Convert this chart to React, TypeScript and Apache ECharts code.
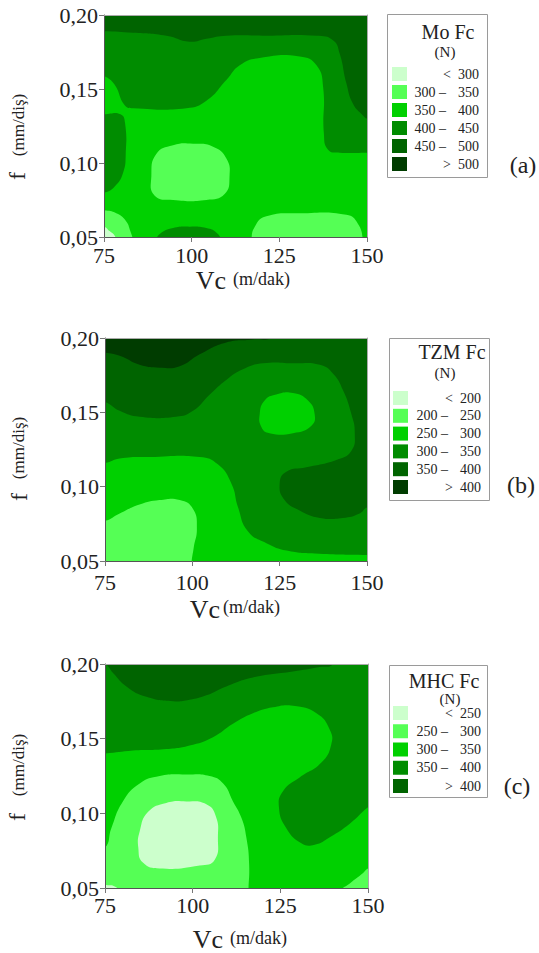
import React, { useEffect, useRef } from "react";
import * as echarts from "echarts";

// ---------------- shared axis ticks ----------------
const vcTicks = [75, 100, 125, 150];
const fTicks = [0.05, 0.1, 0.15, 0.2];

// level colours, lightest -> darkest
const greens = ["#ccffcc", "#55ff55", "#00d000", "#008c00", "#006400", "#003c00"];

// ---------------- (a) Mo Fc ----------------
const moTitle = "Mo Fc";
const moLow = ["<", "300 –", "350 –", "400 –", "450 –", ">"];
const moHigh = ["300", "350", "400", "450", "500", "500"];

const moBase = [[75, 0.05], [150, 0.05], [150, 0.2], [75, 0.2]];
const moL3Upper = [[71, 0.163], [75, 0.159], [78.0, 0.153], [80.9, 0.139], [83.3, 0.137], [98.5, 0.137], [104.2, 0.142], [109.9, 0.156], [113.7, 0.166], [119.4, 0.171], [130.8, 0.172], [135.6, 0.166], [137.5, 0.151], [137.7, 0.12], [138.9, 0.109], [142.2, 0.107], [150, 0.107], [154, 0.107], [154, 0.215], [71, 0.215]];
const moL4Top = [[71, 0.189], [75, 0.189], [83.3, 0.188], [92.8, 0.186], [99.4, 0.182], [104.2, 0.184], [109.9, 0.186], [121.3, 0.186], [135.6, 0.186], [140.3, 0.183], [142.2, 0.174], [144.1, 0.154], [146.0, 0.14], [148.9, 0.132], [150, 0.13], [154, 0.128], [154, 0.215], [71, 0.215]];
const moL3Left = [[71, 0.133], [75, 0.133], [79.7, 0.133], [81.0, 0.127], [81.2, 0.106], [80.4, 0.093], [78.0, 0.084], [75, 0.08], [71, 0.08]];
const moL1Mid = [[89.9, 0.106], [94.7, 0.112], [100.4, 0.113], [106.1, 0.111], [109.9, 0.103], [110.8, 0.091], [109.4, 0.079], [104.2, 0.075], [94.7, 0.075], [89.4, 0.078], [88.5, 0.091]];
const moL1Corner = [[71, 0.068], [75, 0.068], [78.5, 0.066], [81.2, 0.061], [82.5, 0.054], [83.3, 0.047], [83.6, 0.035], [71, 0.035]];
const moL0Corner = [[71, 0.058], [75, 0.057], [76.6, 0.054], [78.0, 0.051], [78.5, 0.047], [78.7, 0.035], [71, 0.035]];
const moL3Bottom = [[89.6, 0.035], [89.9, 0.047], [90.9, 0.052], [94.7, 0.056], [99.4, 0.057], [104.2, 0.056], [107.0, 0.053], [108.5, 0.047], [108.8, 0.035]];
const moL1Right = [[116.8, 0.035], [117.0, 0.047], [118.0, 0.057], [121.3, 0.064], [130.8, 0.066], [144.1, 0.065], [147.4, 0.059], [148.9, 0.047], [149.1, 0.035]];

const moRegions: [number[][], number][] = [
  [moBase, 2], [moL3Upper, 3], [moL4Top, 4], [moL3Left, 3], [moL1Mid, 1],
  [moL1Corner, 1], [moL0Corner, 0], [moL3Bottom, 3], [moL1Right, 1],
];

// ---------------- (b) TZM Fc ----------------
const tzTitle = "TZM Fc";
const tzLow = ["<", "200 –", "250 –", "300 –", "350 –", ">"];
const tzHigh = ["200", "250", "300", "350", "400", "400"];

const tzBase = [[75, 0.05], [150, 0.05], [150, 0.2], [75, 0.2]];
const tzL3 = [[71, 0.158], [75, 0.157], [79.2, 0.151], [84.9, 0.147], [95.4, 0.147], [100.2, 0.151], [105.0, 0.162], [109.8, 0.172], [114.5, 0.179], [120.2, 0.183], [128.8, 0.183], [136.5, 0.182], [140.3, 0.176], [143.1, 0.165], [145.5, 0.149], [146.5, 0.136], [145.5, 0.124], [141.2, 0.118], [132.6, 0.113], [126.9, 0.11], [125.0, 0.102], [126.4, 0.091], [130.7, 0.084], [136.5, 0.079], [143.1, 0.079], [147.9, 0.082], [150, 0.086], [154, 0.088], [154, 0.035], [71, 0.035]];
const tzL2 = [[71, 0.116], [75, 0.116], [79.2, 0.119], [87.8, 0.12], [102.1, 0.12], [107.3, 0.115], [111.2, 0.102], [113.1, 0.086], [115.9, 0.07], [121.2, 0.062], [127.0, 0.057], [135.0, 0.055], [150, 0.054], [154, 0.054], [154, 0.035], [71, 0.035]];
const tzL2Blob = [[119.3, 0.149], [120.7, 0.158], [124.0, 0.162], [128.8, 0.163], [133.1, 0.158], [135.0, 0.149], [134.1, 0.141], [128.8, 0.136], [122.1, 0.136], [119.8, 0.14]];
const tzL1 = [[71, 0.077], [75, 0.077], [79.2, 0.082], [84.9, 0.088], [90.6, 0.091], [96.4, 0.091], [100.2, 0.085], [101.3, 0.072], [100.4, 0.059], [99.7, 0.047], [99.6, 0.035], [71, 0.035]];
const tzL5 = [[71, 0.191], [75, 0.19], [79.2, 0.188], [84.9, 0.182], [90.6, 0.18], [96.4, 0.181], [102.1, 0.189], [109.7, 0.197], [117.4, 0.199], [123.1, 0.201], [125, 0.215], [71, 0.215]];

const tzRegions: [number[][], number][] = [
  [tzBase, 4], [tzL3, 3], [tzL2, 2], [tzL2Blob, 2], [tzL1, 1], [tzL5, 5],
];

// ---------------- (c) MHC Fc ----------------
const mhTitle = "MHC Fc";
const mhLow = ["<", "250 –", "300 –", "350 –", ">"];
const mhHigh = ["250", "300", "350", "400", "400"];

const mhBase = [[75, 0.05], [150, 0.05], [150, 0.2], [75, 0.2]];
const mhL3 = [[71, 0.14], [75, 0.14], [83.0, 0.142], [92.5, 0.143], [100.1, 0.146], [105.8, 0.151], [111.5, 0.16], [117.2, 0.167], [122.9, 0.171], [128.6, 0.172], [135.3, 0.167], [139.1, 0.156], [139.5, 0.146], [136.7, 0.134], [130.5, 0.124], [125.8, 0.115], [124.6, 0.104], [126.7, 0.09], [131.0, 0.08], [134.8, 0.079], [139.1, 0.084], [144.8, 0.093], [150, 0.104], [154, 0.11], [154, 0.215], [71, 0.215]];
const mhL4 = [[71, 0.202], [75, 0.2], [77.3, 0.194], [81.1, 0.185], [86.8, 0.178], [94.4, 0.175], [99.1, 0.176], [103.9, 0.179], [109.6, 0.185], [117.2, 0.191], [128.6, 0.195], [136.2, 0.198], [140.0, 0.2], [142, 0.215], [71, 0.215]];
const mhL1 = [[71, 0.076], [75, 0.077], [76.8, 0.09], [80.1, 0.108], [84.9, 0.12], [90.6, 0.125], [98.2, 0.126], [104.8, 0.125], [108.7, 0.12], [111.5, 0.108], [113.9, 0.097], [115.3, 0.084], [116.1, 0.066], [115.9, 0.047], [115.9, 0.035], [71, 0.035]];
const mhL0 = [[84.9, 0.088], [87.3, 0.101], [92.5, 0.107], [98.2, 0.108], [103.9, 0.106], [106.6, 0.098], [107.2, 0.084], [106.3, 0.069], [102.0, 0.065], [90.6, 0.063], [85.8, 0.067], [84.5, 0.077]];
const mhL1Right = [[141.6, 0.035], [141.9, 0.047], [144.8, 0.053], [148.6, 0.06], [150, 0.063], [154, 0.066], [154, 0.035]];
const mhL0Corner = [[71, 0.052], [75, 0.052], [75.4, 0.052], [77.8, 0.051], [79.2, 0.047], [79.3, 0.035], [71, 0.035]];

const mhRegions: [number[][], number][] = [
  [mhBase, 2], [mhL3, 3], [mhL4, 4], [mhL1, 1], [mhL0, 0], [mhL1Right, 1], [mhL0Corner, 0],
];

const FONT = '"Liberation Serif", "Times New Roman", "DejaVu Serif", serif';
const INK = "#222";

function txt(x: number, y: number, text: string, size: number, align = "center", rotation = 0) {
  return {
    type: "text",
    x,
    y,
    rotation,
    z: 20,
    silent: true,
    style: {
      text,
      fontFamily: FONT,
      fontSize: size,
      fill: INK,
      align,
      textAlign: align,
      verticalAlign: "middle",
      textVerticalAlign: "middle",
    },
  };
}

function legend(
  bx: number, by: number, bw: number, bh: number,
  title: string, tx: number, ty: number, nx: number, ny: number,
  low: string[], high: string[], row0: number, step: number, sx: number,
) {
  const els: any[] = [];
  els.push({
    type: "rect", z: 15, silent: true,
    shape: { x: bx + 0.5, y: by + 0.5, width: bw, height: bh },
    style: { fill: "#fff", stroke: "#9a9a9a", lineWidth: 1 },
  });
  els.push(txt(tx, ty, title, 20));
  els.push(txt(nx, ny, "(N)", 15));
  low.forEach((l, i) => {
    const cy = row0 + i * step;
    els.push({
      type: "rect", z: 16, silent: true,
      shape: { x: sx, y: cy - 7, width: 15, height: 14 },
      style: { fill: greens[i], stroke: null },
    });
    const isSign = l === "<" || l === ">";
    els.push(txt(isSign ? bx + 64 : bx + 59, cy, l, 14, "right"));
    els.push(txt(bx + 92, cy, high[i], 14, "right"));
  });
  return els;
}

const panels = [
  { regions: moRegions, grid: { left: 104, top: 15, width: 263, height: 222 }, margin: 7 },
  { regions: tzRegions, grid: { left: 105, top: 338, width: 262, height: 223 }, margin: 10 },
  { regions: mhRegions, grid: { left: 105, top: 664, width: 263, height: 224 }, margin: 6 },
];

export default function App() {
  const ref = useRef<HTMLDivElement>(null);
  useEffect(() => {
    if (!ref.current) return;
    const chart = echarts.init(ref.current, undefined, { renderer: "svg" });
    const xMin = vcTicks[0];
    const xMax = vcTicks[vcTicks.length - 1];
    const xInt = vcTicks[1] - vcTicks[0];
    const yMin = fTicks[0];
    const yMax = fTicks[fTicks.length - 1];
    const yInt = fTicks[1] - fTicks[0];

    const xAxes: any[] = [];
    const yAxes: any[] = [];
    panels.forEach((p, gi) => {
      xAxes.push({
        gridIndex: gi, type: "value", min: xMin, max: xMax, interval: xInt, position: "bottom", z: 10,
        axisLine: { show: true, lineStyle: { color: "#555", width: 1 } },
        axisTick: { show: true, length: 5, lineStyle: { color: "#777" } },
        axisLabel: { fontFamily: FONT, fontSize: 22, color: INK, margin: p.margin },
        splitLine: { show: false },
      });
      yAxes.push({
        gridIndex: gi, type: "value", min: yMin, max: yMax, interval: yInt, position: "left", z: 10,
        axisLine: { show: true, lineStyle: { color: "#555", width: 1 } },
        axisTick: { show: true, length: 5, lineStyle: { color: "#777" } },
        axisLabel: {
          fontFamily: FONT, fontSize: 22, color: INK, margin: 6,
          formatter: (v: number) => v.toFixed(2).replace(".", ","),
        },
        splitLine: { show: false },
      });
    });
    panels.forEach((p, gi) => {
      xAxes.push({
        gridIndex: gi, type: "value", min: xMin, max: xMax, position: "top", z: 10,
        axisLine: { show: true, lineStyle: { color: "#aaa", width: 1 } },
        axisTick: { show: false }, axisLabel: { show: false }, splitLine: { show: false },
      });
      yAxes.push({
        gridIndex: gi, type: "value", min: yMin, max: yMax, position: "right", z: 10,
        axisLine: { show: true, lineStyle: { color: "#aaa", width: 1 } },
        axisTick: { show: false }, axisLabel: { show: false }, splitLine: { show: false },
      });
    });

    const series = panels.map((p, gi) => ({
      type: "custom",
      coordinateSystem: "cartesian2d",
      xAxisIndex: gi,
      yAxisIndex: gi,
      clip: true,
      silent: true,
      z: 1,
      renderItem: (params: any, api: any) => {
        const [pts, lvl] = p.regions[params.dataIndex];
        const points = pts.map((pt) => api.coord(pt));
        return {
          type: "polygon",
          shape: { points, smooth: params.dataIndex === 0 ? 0 : 0.5 },
          style: { fill: greens[lvl], stroke: null },
        };
      },
      data: p.regions.map((_r, i) => [xMin, yMin, i]),
    }));

    const graphic: any[] = [
      // axis titles
      txt(226, 280, "Vc", 26, "right"), txt(233, 279, "(m/dak)", 18, "left"),
      txt(220, 609, "Vc", 26, "right"), txt(223, 607, "(m/dak)", 18, "left"),
      txt(223, 939, "Vc", 26, "right"), txt(230, 938, "(m/dak)", 18, "left"),
      txt(17, 176, "f", 24, "center", Math.PI / 2), txt(18, 125, "(mm/diş)", 17, "center", Math.PI / 2),
      txt(19, 497, "f", 24, "center", Math.PI / 2), txt(18, 448, "(mm/diş)", 17, "center", Math.PI / 2),
      txt(17, 817, "f", 24, "center", Math.PI / 2), txt(18, 765, "(mm/diş)", 17, "center", Math.PI / 2),
      // panel letters
      txt(523, 165, "(a)", 24), txt(521, 485, "(b)", 24), txt(517, 786, "(c)", 24),
      ...legend(387, 14, 100, 163, moTitle, 448, 32, 445, 52, moLow, moHigh, 74, 18, 392),
      ...legend(389, 338, 100, 162, tzTitle, 452, 352, 445, 373, tzLow, tzHigh, 398, 17.8, 393),
      ...legend(389, 665, 98, 132, mhTitle, 444, 681, 450, 699, mhLow, mhHigh, 713, 18.25, 393),
    ];

    chart.setOption({
      animation: false,
      backgroundColor: "#fff",
      grid: panels.map((p) => ({ ...p.grid, containLabel: false })),
      xAxis: xAxes,
      yAxis: yAxes,
      series,
      graphic,
    });
    return () => chart.dispose();
  }, []);
  return (
    <div
      ref={ref}
      style={{ position: "absolute", left: 0, top: 0, width: 539, height: 953 }}
    />
  );
}
